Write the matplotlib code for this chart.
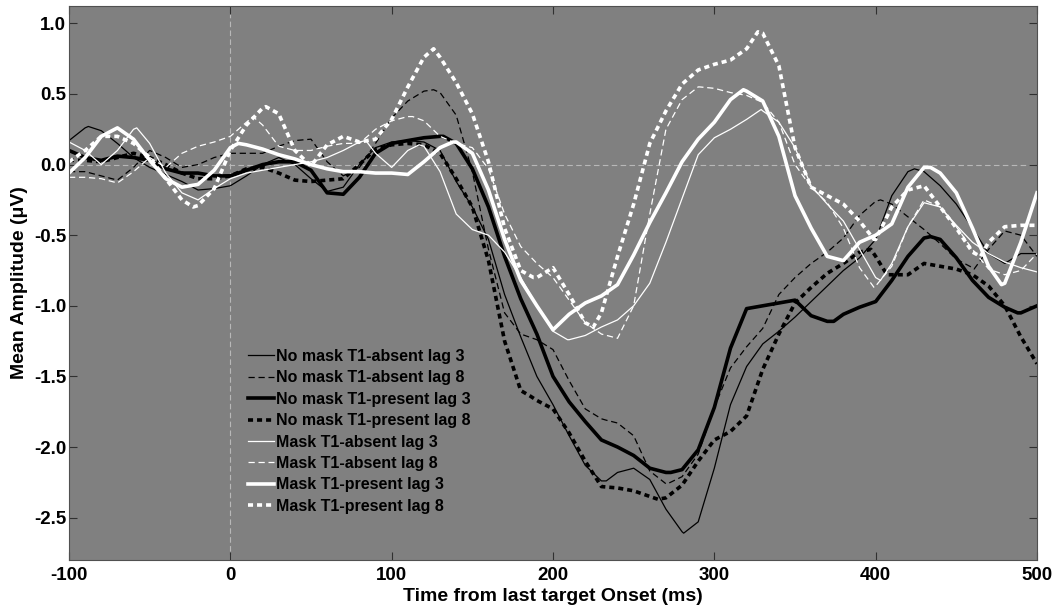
import numpy as np
from matplotlib import pyplot as plt

plt.rcParams['font.family'] = ['Liberation Sans', 'DejaVu Sans']
plt.rcParams['font.weight'] = 'bold'
plt.rcParams['axes.unicode_minus'] = False

# time axis in ms, one sample every 10 ms
time_ms = np.arange(-100, 501, 10)

# mean amplitudes (uV)
nomask_absent_lag3 = [0.17, 0.26, 0.24, 0.15, 0.05, -0.02, -0.07, -0.12, -0.18, -0.17,
                      -0.15, -0.08, 0.0, 0.05, 0.0, -0.1, -0.19, -0.16, 0.0, 0.12,
                      0.16, 0.17, 0.16, 0.1, -0.12, -0.3, -0.53, -0.92, -1.22, -1.5,
                      -1.7, -1.92, -2.13, -2.24, -2.18, -2.15, -2.23, -2.44, -2.6, -2.53,
                      -2.15, -1.7, -1.43, -1.27, -1.18, -1.08, -0.97, -0.86, -0.75, -0.66,
                      -0.53, -0.22, -0.05, -0.05, -0.15, -0.28, -0.45, -0.63, -0.7, -0.63,
                      -0.63]
nomask_absent_lag8 = [-0.05, -0.05, -0.08, -0.11, -0.02, 0.1, 0.05, -0.02, 0.0, 0.05,
                      0.08, 0.08, 0.08, 0.13, 0.17, 0.18, 0.02, -0.08, -0.02, 0.15,
                      0.33, 0.45, 0.52, 0.51, 0.35, -0.05, -0.6, -1.05, -1.2, -1.24,
                      -1.31, -1.53, -1.73, -1.8, -1.83, -1.92, -2.17, -2.26, -2.21, -2.05,
                      -1.72, -1.44, -1.29, -1.16, -0.92, -0.8, -0.7, -0.62, -0.52, -0.36,
                      -0.26, -0.28, -0.37, -0.46, -0.56, -0.67, -0.73, -0.6, -0.47, -0.5,
                      -0.65]
nomask_present_lag3 = [0.1, 0.05, 0.03, 0.06, 0.05, 0.03, -0.03, -0.06, -0.06, -0.08,
                       -0.08, -0.04, 0.0, 0.02, 0.02, -0.04, -0.2, -0.21, -0.09, 0.08,
                       0.15, 0.17, 0.19, 0.2, 0.15, -0.03, -0.3, -0.65, -0.95, -1.2,
                       -1.5, -1.68, -1.82, -1.95, -2.0, -2.06, -2.15, -2.18, -2.16, -2.02,
                       -1.72, -1.3, -1.02, -1.0, -0.98, -0.96, -1.07, -1.11, -1.06, -1.01,
                       -0.97, -0.82, -0.65, -0.52, -0.53, -0.66, -0.82, -0.94, -1.01, -1.05,
                       -1.0]
nomask_present_lag8 = [0.03, 0.03, 0.02, 0.05, 0.08, 0.05, 0.0, -0.06, -0.1, -0.1,
                       -0.08, -0.03, -0.02, -0.06, -0.11, -0.12, -0.11, -0.1, 0.0, 0.11,
                       0.14, 0.15, 0.14, 0.08, -0.1, -0.3, -0.68, -1.25, -1.6, -1.67,
                       -1.73, -1.9, -2.1, -2.28, -2.29, -2.31, -2.35, -2.36, -2.27, -2.1,
                       -1.95, -1.89, -1.78, -1.45, -1.2, -0.98, -0.87, -0.77, -0.7, -0.62,
                       -0.65, -0.78, -0.78, -0.7, -0.72, -0.74, -0.78, -0.86, -1.0, -1.22,
                       -1.41]
mask_absent_lag3 = [0.16, 0.1, 0.0, 0.1, 0.25, 0.15, -0.06, -0.2, -0.25, -0.17,
                    -0.1, -0.06, -0.04, -0.02, 0.0, 0.02, 0.05, 0.1, 0.16, 0.08,
                    -0.02, 0.1, 0.13, -0.05, -0.35, -0.46, -0.5, -0.62, -0.8, -1.0,
                    -1.18, -1.24, -1.21, -1.15, -1.1, -1.0, -0.84, -0.55, -0.24, 0.07,
                    0.19, 0.25, 0.32, 0.38, 0.3, 0.12, -0.15, -0.28, -0.4, -0.6,
                    -0.8, -0.7, -0.44, -0.27, -0.3, -0.43, -0.55, -0.63, -0.69, -0.73,
                    -0.76]
mask_absent_lag8 = [-0.09, -0.09, -0.1, -0.13, -0.05, 0.05, -0.02, 0.08, 0.13, 0.16,
                    0.2, 0.3, 0.28, 0.13, 0.1, 0.1, 0.13, 0.15, 0.15, 0.25,
                    0.31, 0.34, 0.31, 0.2, 0.15, 0.12, -0.03, -0.35, -0.58, -0.7,
                    -0.8, -0.96, -1.12, -1.2, -1.23, -1.0, -0.35, 0.25, 0.46, 0.55,
                    0.54, 0.51, 0.49, 0.44, 0.3, 0.0, -0.16, -0.27, -0.45, -0.73,
                    -0.86, -0.72, -0.44, -0.25, -0.3, -0.44, -0.6, -0.74, -0.78, -0.75,
                    -0.63]
mask_present_lag3 = [-0.06, 0.05, 0.2, 0.26, 0.18, 0.03, -0.1, -0.16, -0.14, -0.04,
                     0.12, 0.14, 0.11, 0.07, 0.04, 0.0, -0.03, -0.05, -0.05, -0.06,
                     -0.06, -0.07, 0.02, 0.12, 0.16, 0.08, -0.18, -0.53, -0.82, -1.0,
                     -1.15, -1.06, -0.98, -0.93, -0.85, -0.64, -0.41, -0.2, 0.02, 0.18,
                     0.3, 0.46, 0.52, 0.45, 0.2, -0.22, -0.45, -0.65, -0.68, -0.55,
                     -0.5, -0.42, -0.16, -0.02, -0.06, -0.2, -0.45, -0.72, -0.84, -0.55,
                     -0.2]
mask_present_lag8 = [0.02, 0.1, 0.2, 0.2, 0.15, 0.05, -0.1, -0.25, -0.29, -0.17,
                     0.1, 0.28, 0.4, 0.36, 0.1, -0.01, 0.14, 0.2, 0.16, 0.18,
                     0.32, 0.55, 0.76, 0.76, 0.58, 0.36, 0.02, -0.45, -0.75, -0.8,
                     -0.73, -0.92, -1.12, -1.05, -0.65, -0.28, 0.15, 0.38, 0.57, 0.67,
                     0.71, 0.74, 0.82, 0.93, 0.7, 0.12, -0.16, -0.22, -0.28, -0.4,
                     -0.53, -0.3, -0.18, -0.15, -0.3, -0.45, -0.62, -0.55, -0.44, -0.43,
                     -0.43]

# extra samples read at the peaks and troughs (time ms, uV)
extra_nomask_absent_lag3 = [(-88, 0.27), (233, -2.24), (250, -2.15), (281, -2.61), (424, -0.03)]
extra_nomask_absent_lag8 = [(126, 0.53), (233, -1.81), (271, -2.26), (403, -0.25), (461, -0.74)]
extra_nomask_present_lag3 = [(132, 0.2), (273, -2.18), (374, -1.11), (434, -0.51), (488, -1.05)]
extra_nomask_present_lag8 = [(186, -1.64), (265, -2.37), (397, -0.6), (407, -0.78)]
extra_mask_absent_lag3 = [(-58, 0.26), (84, 0.17), (117, 0.14), (209, -1.24), (329, 0.39), (403, -0.82)]
extra_mask_absent_lag8 = [(14, 0.34), (113, 0.34), (291, 0.55), (399, -0.87)]
extra_mask_present_lag3 = [(-70, 0.26), (5, 0.15), (138, 0.16), (200, -1.17), (318, 0.53),
                           (434, -0.02), (478, -0.85)]
extra_mask_present_lag8 = [(-23, -0.30), (22, 0.41), (126, 0.82), (188, -0.8), (225, -1.15),
                           (327, 0.94), (399, -0.53), (465, -0.65)]

labels = ['No mask T1-absent lag 3', 'No mask T1-absent lag 8',
          'No mask T1-present lag 3', 'No mask T1-present lag 8',
          'Mask T1-absent lag 3', 'Mask T1-absent lag 8',
          'Mask T1-present lag 3', 'Mask T1-present lag 8']
series = [nomask_absent_lag3, nomask_absent_lag8, nomask_present_lag3, nomask_present_lag8,
          mask_absent_lag3, mask_absent_lag8, mask_present_lag3, mask_present_lag8]
extras = [extra_nomask_absent_lag3, extra_nomask_absent_lag8,
          extra_nomask_present_lag3, extra_nomask_present_lag8,
          extra_mask_absent_lag3, extra_mask_absent_lag8,
          extra_mask_present_lag3, extra_mask_present_lag8]

thin, thick = 0.9, 2.6
styles = [('k', thin, '-'), ('k', thin, (0, (5, 3))),
          ('k', thick, '-'), ('k', thick, (0, (1.4, 1.1))),
          ('w', thin, '-'), ('w', thin, (0, (5, 3))),
          ('w', thick, '-'), ('w', thick, (0, (1.4, 1.1)))]

fig = plt.figure(figsize=(10.56, 6.09), dpi=100)
ax = fig.add_axes([69/1056, 1-560/609, 968/1056, 554/609])
ax.set_facecolor('#808080')

# zero reference lines
ax.axhline(0, color='#b8b8b8', lw=0.8, ls=(0, (5, 3)), zorder=1)
ax.axvline(0, color='#b8b8b8', lw=0.8, ls=(0, (5, 3)), zorder=1)

for y, ex, lab, (c, lw, ls) in zip(series, extras, labels, styles):
    pts = dict(zip(time_ms.tolist(), y))
    pts.update(dict(ex))
    tt = sorted(pts)
    ax.plot(tt, [pts[t] for t in tt], color=c, lw=lw, ls=ls, label=lab, zorder=2,
            solid_joinstyle='round', dash_joinstyle='round')

ax.set_xlim(-100, 500)
ax.set_ylim(-2.8, 1.123)
ax.set_xticks([-100, 0, 100, 200, 300, 400, 500])
ax.set_yticks([-2.5, -2.0, -1.5, -1.0, -0.5, 0.0, 0.5, 1.0])
ax.set_yticklabels(['%.1f' % v for v in ax.get_yticks()])
ax.tick_params(direction='in', length=6, width=0.8, color='#303030',
               top=True, right=True, labelsize=13.5)
ax.tick_params(axis='x', pad=5)
ax.tick_params(axis='y', pad=2)
for sp in ax.spines.values():
    sp.set_color('#505050')
    sp.set_linewidth(0.8)

ax.set_xlabel('Time from last target Onset (ms)', fontsize=14, fontweight='bold', labelpad=3)
ax.set_ylabel('Mean Amplitude (\u03bcV)', fontsize=14, fontweight='bold', labelpad=4)

leg = ax.legend(loc='upper left', bbox_to_anchor=((248-69)/968, (560-349)/554),
                frameon=False, fontsize=11.5, handlelength=1.6, handletextpad=0.15,
                labelspacing=0.4, borderpad=0, borderaxespad=0)
for t in leg.get_texts():
    t.set_fontweight('bold')

fig.savefig('out.png', dpi=100)
